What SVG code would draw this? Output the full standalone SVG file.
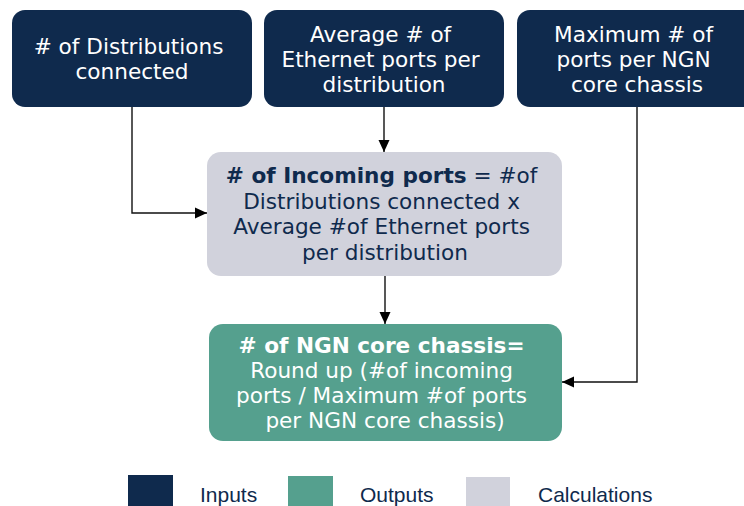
<svg xmlns="http://www.w3.org/2000/svg" width="744" height="506" viewBox="0 0 744 506">
<style>
.t{font-family:"DejaVu Sans",Verdana,sans-serif;font-size:21.6px;text-anchor:middle}
.w{fill:#ffffff}
.d{fill:#0f2a4d}
.b{font-weight:bold}
.in{fill:#0f2a4d}
.out{fill:#55a08e}
.calc{fill:#d1d2dc}
.lg{font-family:"Liberation Sans",Arial,sans-serif;font-size:21px;fill:#0f2a4d}
.c{fill:none;stroke:#111;stroke-width:1.4}
</style>
<defs>
<marker id="ah" markerUnits="userSpaceOnUse" markerWidth="12" markerHeight="12" viewBox="0 0 12 12" refX="12" refY="6" orient="auto">
<path d="M0,0.5 L12,6 L0,11.5 Z" fill="#000"/>
</marker>
</defs>
<g id="n1">
<rect class="in" x="12" y="10" width="240" height="97" rx="13"/>
<text class="t w" x="132" y="54">
<tspan x="132">#  of Distributions</tspan>
<tspan x="132" y="79">connected</tspan>
</text>
</g>
<g id="n2">
<rect class="in" x="264" y="10" width="240" height="97" rx="13"/>
<text class="t w" x="384" y="42">
<tspan x="384">Average #  of</tspan>
<tspan x="384" y="67">Ethernet ports per</tspan>
<tspan x="384" y="92">distribution</tspan>
</text>
</g>
<g id="n3">
<rect class="in" x="517" y="10" width="240" height="97" rx="13"/>
<text class="t w" x="637" y="42">
<tspan x="637">Maximum #  of</tspan>
<tspan x="637" y="67">ports per NGN</tspan>
<tspan x="637" y="92">core chassis</tspan>
</text>
</g>
<g id="n4">
<rect class="calc" x="207" y="152" width="355" height="124" rx="14"/>
<text class="t d" x="385" y="183">
<tspan class="b">#  of Incoming ports</tspan><tspan> = #of</tspan>
<tspan x="385" y="208.5">Distributions connected x</tspan>
<tspan x="385" y="234">Average #of Ethernet ports</tspan>
<tspan x="385" y="259.5">per distribution</tspan>
</text>
</g>
<g id="n5">
<rect class="out" x="209" y="324" width="353" height="117" rx="14"/>
<text class="t w" x="385" y="353">
<tspan class="b" x="385">#  of NGN core chassis=</tspan>
<tspan x="385" y="378">Round up (#of incoming</tspan>
<tspan x="385" y="403">ports / Maximum #of ports</tspan>
<tspan x="385" y="428">per NGN core chassis)</tspan>
</text>
</g>
<g id="connectors">
<path class="c" d="M132,107 V213 H207" marker-end="url(#ah)"/>
<path class="c" d="M384,107 V152" marker-end="url(#ah)"/>
<path class="c" d="M385,276 V324" marker-end="url(#ah)"/>
<path class="c" d="M637,107 V382 H562" marker-end="url(#ah)"/>
</g>
<g id="legend">
<rect class="in" x="128" y="475" width="45" height="31"/>
<text class="lg" x="200" y="502">Inputs</text>
<rect class="out" x="288" y="476" width="45" height="30"/>
<text class="lg" x="360" y="502">Outputs</text>
<rect class="calc" x="466" y="477" width="44" height="29"/>
<text class="lg" x="538" y="502">Calculations</text>
</g>
</svg>
